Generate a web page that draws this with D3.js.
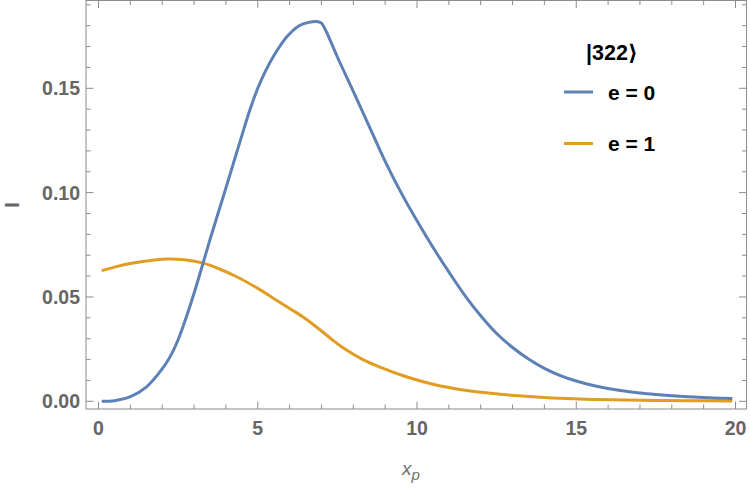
<!DOCTYPE html>
<html>
<head>
<meta charset="utf-8">
<script src="https://cdn.jsdelivr.net/npm/d3@7"></script>
<style>
  body { margin: 0; background: #fff; }
  text { font-family: "Liberation Sans", Arial, sans-serif; }
</style>
</head>
<body>
<div id="chart"></div>
<script>
// data
var xBlue = [0.1, 0.5, 1, 1.5, 2, 2.25, 2.5, 2.75, 3, 3.25, 3.5, 4, 4.25, 4.5, 4.75, 5, 5.25, 5.5, 5.9, 6.3, 6.6, 6.85, 7.0, 7.15, 7.5, 8, 8.5, 9, 9.5, 10, 10.5, 11, 11.5, 12, 12.5, 13, 13.5, 14, 14.5, 15, 15.5, 16, 16.5, 17, 17.5, 18, 18.5, 19, 19.5, 19.9];
var yBlue = [0, 0.0003, 0.0022, 0.0068, 0.0155, 0.0214, 0.0295, 0.0400, 0.0518, 0.0645, 0.0775, 0.1022, 0.1148, 0.1273, 0.1395, 0.150, 0.1585, 0.1655, 0.1745, 0.1800, 0.1816, 0.1820, 0.1812, 0.1772, 0.1650, 0.1485, 0.1318, 0.1150, 0.1000, 0.0865, 0.0738, 0.0620, 0.0508, 0.0410, 0.0325, 0.0258, 0.0203, 0.0158, 0.0123, 0.0097, 0.0077, 0.0061, 0.0049, 0.0040, 0.0033, 0.0027, 0.0022, 0.0018, 0.0015, 0.0013];

var xOrange = [0.1, 0.5, 1, 1.5, 2.14, 2.7, 3.29, 3.8, 4.34, 5, 5.5, 6, 6.5, 6.95, 7.3, 7.69, 8.3, 8.94, 9.5, 10, 10.5, 11, 11.5, 12, 12.6, 13.3, 14, 14.7, 15.5, 16.5, 17.5, 18.5, 19.9];
var yOrange = [0.0626, 0.0643, 0.0660, 0.0672, 0.0682, 0.0678, 0.0662, 0.0634, 0.0597, 0.0541, 0.0493, 0.0445, 0.0396, 0.0343, 0.0300, 0.0255, 0.0200, 0.0158, 0.0126, 0.0102, 0.0082, 0.0066, 0.0053, 0.0043, 0.0034, 0.0025, 0.0018, 0.0013, 0.0009, 0.0006, 0.0004, 0.0003, 0.0002];

var xMajor = [0, 5, 10, 15, 20];
var xMinor = d3.range(0, 21, 1);
var yMajor = [0, 0.05, 0.10, 0.15];
var yMinor = d3.range(0, 0.195, 0.01);

var seriesNames = ['e = 0', 'e = 1'];
var colors = ['#5E81B5', '#E19C24'];
var legendTitle = '|322\u27E9';

var width = 750, height = 488;
var frameL = 86, frameR = 746.5, frameT = 0.5, frameB = 409;

var x = d3.scaleLinear().domain([0, 20]).range([98.5, 735.5]);
var y = d3.scaleLinear().domain([0, 0.15]).range([401.3, 88.3]);

var svg = d3.select('#chart').append('svg')
  .attr('width', width)
  .attr('height', height);

// frame
svg.append('rect')
  .attr('x', frameL).attr('y', frameT)
  .attr('width', frameR - frameL).attr('height', frameB - frameT)
  .attr('fill', 'none')
  .attr('stroke', '#8c8c8c')
  .attr('stroke-width', 1);

var tickColor = '#8c8c8c';
var fmtY = d3.format('.2f');

// x ticks, bottom and top, pointing inward
function xTicks(vals, len) {
  svg.selectAll(null).data(vals).enter().append('line')
    .attr('x1', d => x(d)).attr('x2', d => x(d))
    .attr('y1', frameB).attr('y2', frameB - len)
    .attr('stroke', tickColor);
  svg.selectAll(null).data(vals).enter().append('line')
    .attr('x1', d => x(d)).attr('x2', d => x(d))
    .attr('y1', frameT).attr('y2', frameT + len)
    .attr('stroke', tickColor);
}
xTicks(xMinor.filter(d => xMajor.indexOf(d) < 0), 4.5);
xTicks(xMajor, 7.5);

function yTicks(vals, len) {
  svg.selectAll(null).data(vals).enter().append('line')
    .attr('y1', d => y(d)).attr('y2', d => y(d))
    .attr('x1', frameL).attr('x2', frameL + len)
    .attr('stroke', tickColor);
  svg.selectAll(null).data(vals).enter().append('line')
    .attr('y1', d => y(d)).attr('y2', d => y(d))
    .attr('x1', frameR).attr('x2', frameR - len)
    .attr('stroke', tickColor);
}
yTicks(yMinor.filter(d => Math.round(d * 100) % 5 !== 0), 4.5);
yTicks(yMajor, 7.5);

// tick labels
svg.selectAll(null).data(xMajor).enter().append('text')
  .attr('x', d => x(d))
  .attr('y', 435)
  .attr('text-anchor', 'middle')
  .attr('font-size', 19.5)
  .attr('font-weight', 'bold')
  .attr('fill', '#666')
  .text(d => d);

svg.selectAll(null).data(yMajor).enter().append('text')
  .attr('x', 80)
  .attr('y', d => y(d))
  .attr('dy', '0.36em')
  .attr('text-anchor', 'end')
  .attr('font-size', 19.5)
  .attr('font-weight', 'bold')
  .attr('fill', '#666')
  .text(d => fmtY(d));

// axis labels
svg.append('text')
  .attr('transform', 'translate(19,205) rotate(-90)')
  .attr('text-anchor', 'middle')
  .attr('font-size', 20)
  .attr('font-weight', 'bold')
  .attr('fill', '#666')
  .text('I');

var xl = svg.append('text')
  .attr('x', 402)
  .attr('y', 475)
  .attr('fill', '#707070')
  .attr('font-style', 'italic')
  .attr('font-size', 19);
xl.append('tspan').text('x');
xl.append('tspan').attr('font-size', 15).attr('dy', 5).text('p');

// lines
var line = d3.line()
  .x(d => x(d[0]))
  .y(d => y(d[1]))
  .curve(d3.curveCatmullRom.alpha(0.5));

var blue = xBlue.map((d, i) => [d, yBlue[i]]);
var orange = xOrange.map((d, i) => [d, yOrange[i]]);

svg.append('path')
  .datum(orange)
  .attr('fill', 'none')
  .attr('stroke', colors[1])
  .attr('stroke-width', 3)
  .attr('d', line);

svg.append('path')
  .datum(blue)
  .attr('fill', 'none')
  .attr('stroke', colors[0])
  .attr('stroke-width', 3)
  .attr('d', line);

// legend
svg.append('text')
  .attr('x', 586)
  .attr('y', 60)
  .attr('font-size', 21.5)
  .attr('font-weight', 'bold')
  .attr('fill', '#000')
  .style('font-family', '"Liberation Sans", "DejaVu Sans", sans-serif')
  .text(legendTitle);

var legY = [92, 143.5];
seriesNames.forEach(function(name, i) {
  svg.append('line')
    .attr('x1', 564).attr('x2', 593)
    .attr('y1', legY[i]).attr('y2', legY[i])
    .attr('stroke', colors[i])
    .attr('stroke-width', 3);
  svg.append('text')
    .attr('x', 608)
    .attr('y', legY[i])
    .attr('dy', '0.36em')
    .attr('font-size', 21)
    .attr('font-weight', 'bold')
    .attr('fill', '#000')
    .style('white-space', 'pre')
    .text(name);
});
</script>
</body>
</html>
